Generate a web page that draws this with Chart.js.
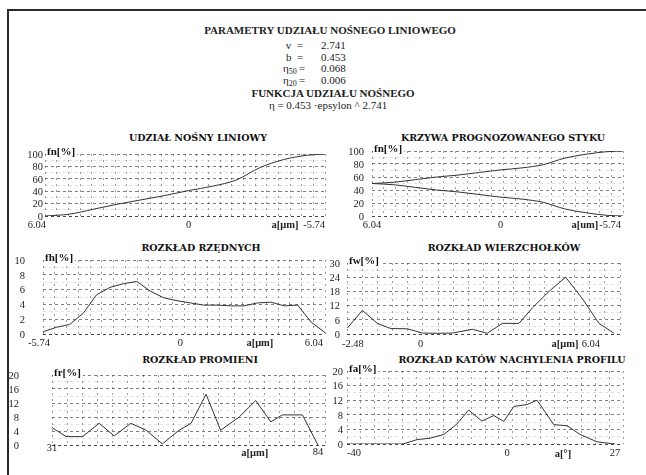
<!DOCTYPE html>
<html>
<head>
<meta charset="utf-8">
<script src="https://cdn.jsdelivr.net/npm/chart.js@4/dist/chart.umd.min.js"></script>
<style>
  html, body { margin: 0; padding: 0; background: #fff; }
  body { position: relative; width: 646px; height: 475px; overflow: hidden;
         font-family: "Liberation Serif", "Times New Roman", serif; color: #222; }
  .frame { position: absolute; left: 7px; top: 9px; width: 700px; height: 500px;
           border-left: 2px solid #2a2a2a; border-top: 2px solid #2a2a2a; }
  .t { position: absolute; white-space: nowrap; line-height: 12px; font-size: 11px; }
  .c { transform: translateX(-50%); }
  .b { font-weight: bold; }
  .ptitle { position: absolute; white-space: nowrap; transform: translateX(-50%);
            font-family: "DejaVu Serif", serif; font-weight: bold; font-size: 9.5px;
            line-height: 12px; color: #111; }
  sub { font-size: 8px; vertical-align: -2px; }
  canvas { position: absolute; }
</style>
</head>
<body>
<div class="frame"></div>

<div class="t c b" style="left:330px;top:24px;">PARAMETRY UDZIAŁU NOŚNEGO LINIOWEGO</div>
<div class="t" style="left:286px;top:39px;">ν</div><div class="t" style="left:297px;top:39px;">=</div><div class="t" style="left:321px;top:39px;">2.741</div>
<div class="t" style="left:286px;top:51px;">b</div><div class="t" style="left:297px;top:51px;">=</div><div class="t" style="left:321px;top:51px;">0.453</div>
<div class="t" style="left:283px;top:62px;">η<sub>50</sub></div><div class="t" style="left:299px;top:62px;">=</div><div class="t" style="left:321px;top:62px;">0.068</div>
<div class="t" style="left:283px;top:74px;">η<sub>20</sub></div><div class="t" style="left:299px;top:74px;">=</div><div class="t" style="left:321px;top:74px;">0.006</div>
<div class="t c b" style="left:333px;top:87px;">FUNKCJA UDZIAŁU NOŚNEGO</div>
<div class="t c" style="left:328px;top:99px;">η = 0.453 ·epsylon ^ 2.741</div>

<div class="ptitle" style="left:198px;top:132px;">UDZIAŁ NOŚNY LINIOWY</div>
<div class="ptitle" style="left:503px;top:132px;">KRZYWA PROGNOZOWANEGO STYKU</div>
<div class="ptitle" style="left:201px;top:242px;">ROZKŁAD RZĘDNYCH</div>
<div class="ptitle" style="left:504px;top:242px;">ROZKŁAD WIERZCHOŁKÓW</div>
<div class="ptitle" style="left:200px;top:354px;">ROZKŁAD PROMIENI</div>
<div class="ptitle" style="left:512px;top:354px;">ROZKŁAD KATÓW NACHYLENIA PROFILU</div>

<script>
// Udział nośny liniowy: depth a [µm] vs bearing ratio [%]
const bearingDepth = [6.04, 5, 4, 3, 2, 1, 0, -1, -2, -3, -4, -5, -5.74];
const bearingRatio = [0, 3, 11, 19, 26, 33, 41, 48, 58, 78, 91, 98, 100];

// Krzywa prognozowanego styku: two branches over the same depths
const contactUpper = [50, 52, 56, 60, 63, 67, 71, 74, 79, 89, 95, 99, 100];
const contactLower = [50, 48, 44, 40, 37, 33, 29, 26, 21, 11, 5, 1, 0];

// Rozkład rzędnych: ordinate height [µm] vs frequency [%]
const ordinateHeight = [-5.74, -5.18, -4.62, -4.06, -3.50, -2.94, -2.38, -1.82, -1.26, -0.70, -0.14,
                        0.42, 0.98, 1.54, 2.10, 2.66, 3.22, 3.78, 4.34, 4.90, 5.46, 6.04];
const ordinateFreq = [0.3, 0.9, 1.3, 2.8, 5.3, 6.3, 6.8, 7.1, 5.8, 4.9, 4.5,
                      4.2, 3.9, 3.9, 3.8, 3.8, 4.2, 4.3, 3.8, 3.9, 1.6, 0.2];

// Rozkład wierzchołków: peak height [µm] vs frequency [%]
const peakHeight = [-2.47, -1.96, -1.46, -1.01, -0.45, 0.06, 0.56, 1.07, 1.74, 2.24,
                    2.75, 3.31, 3.76, 4.32, 4.88, 5.44, 6.0, 6.51];
const peakFreq = [2.5, 10, 4.5, 2.3, 2.2, 0.4, 0.3, 0.4, 2.0, 0.3,
                  4.5, 4.5, 11, 18, 24, 15, 4.5, 0.3];

// Rozkład promieni: radius [µm] vs frequency [%]
const radius = [31, 33.8, 37.1, 40.4, 43.4, 46.7, 49.7, 53.0, 56.3, 58.7,
                61.7, 64.6, 68.3, 71.6, 74.6, 76.9, 80.9, 84];
const radiusFreq = [5.0, 2.4, 2.4, 6.2, 2.6, 6.2, 4.3, 0.3, 4.2, 6.2,
                    14.5, 4.2, 8.0, 12.7, 6.6, 8.6, 8.6, 0];

// Rozkład kątów nachylenia profilu: angle [°] vs frequency [%]
const slopeAngle = [-40, -26, -22.5, -19.2, -15.8, -12.5, -9.6, -6.3, -3.3, -0.8,
                    1.7, 5, 7.5, 11.7, 15, 18.3, 22.5, 27];
const slopeFreq = [0, 0, 1.2, 1.6, 2.6, 5.5, 9.3, 6.3, 7.8, 6.2,
                   10.3, 10.8, 12.0, 5.3, 5.0, 2.6, 0.6, 0];

const SERIF = '"Liberation Serif", "Times New Roman", serif';
const LINE_COLOR = '#333';

function pts(xs, ys) { return xs.map((x, i) => ({ x, y: ys[i] })); }

const panels = [
  { canvasLeft: 0, L: 45, T: 154, R: 325, B: 216, YR: 43,
    xMin: -5.74, xMax: 6.04, reverse: true, cols: 24, yMax: 100, yStep: 20, smooth: true,
    yLabel: 'fn[%]',
    series: [pts(bearingDepth, bearingRatio)],
    xLabels: [
      { v: 6.04, text: '6.04', align: 'right', dx: 1 },
      { v: 0, text: '0' },
      { v: -4.06, text: 'a[μm]', bold: true },
      { v: -5.74, text: '-5.74', align: 'right' } ] },
  { canvasLeft: 330, L: 372, T: 151, R: 623, B: 216, YR: 364,
    xMin: -5.74, xMax: 6.04, reverse: true, cols: 21, yMax: 100, yStep: 20, smooth: true,
    yLabel: 'fn[%]',
    series: [pts(bearingDepth, contactUpper), pts(bearingDepth, contactLower)],
    xLabels: [
      { v: 6.04, text: '6.04' },
      { v: 0, text: '0' },
      { v: -3.95, text: 'a[um]', bold: true },
      { v: -5.74, text: '-5.74', align: 'right', dx: -2 } ] },
  { canvasLeft: 0, L: 43, T: 260, R: 325, B: 334, YR: 25,
    xMin: -5.74, xMax: 6.04, cols: 24, yMax: 10, yStep: 2,
    yLabel: 'fh[%]',
    series: [pts(ordinateHeight, ordinateFreq)],
    xLabels: [
      { v: -5.74, text: '-5.74', dx: -4 },
      { v: 0, text: '0' },
      { v: 3.32, text: 'a[μm]', bold: true },
      { v: 6.04, text: '6.04', align: 'right', dx: -2 } ] },
  { canvasLeft: 330, L: 347, T: 263, R: 620, B: 334, YR: 340,
    xMin: -2.48, xMax: 6.71, cols: 18, yMax: 30, yStep: 6,
    yLabel: 'fw[%]',
    series: [pts(peakHeight, peakFreq)],
    xLabels: [
      { v: -2.48, text: '-2.48', align: 'left', dx: -5, dy: 10 },
      { v: 0, text: '0', dy: 10 },
      { v: 4.86, text: 'a[μm]', bold: true, dy: 10 },
      { v: 6.04, text: '6.04', align: 'right', dy: 10 } ] },
  { canvasLeft: 0, L: 52, T: 375, R: 325, B: 445, YR: 19,
    xMin: 31, xMax: 85.4, cols: 18, yMax: 20, yStep: 4,
    yLabel: 'fr[%]',
    series: [pts(radius, radiusFreq)],
    xLabels: [
      { v: 31, text: '31', dy: 3 },
      { v: 71.4, text: 'a[μm]', bold: true, dy: 8 },
      { v: 84, text: '84', dy: 7 } ] },
  { canvasLeft: 330, L: 347, T: 371, R: 623, B: 444, YR: 343,
    xMin: -40, xMax: 29, cols: 20, yMax: 20, yStep: 4,
    yLabel: 'fa[%]',
    series: [pts(slopeAngle, slopeFreq)],
    xLabels: [
      { v: -40, text: '-40', align: 'left', dy: 9 },
      { v: 0, text: '0', dy: 9 },
      { v: 14, text: 'a[°]', bold: true, dy: 10 },
      { v: 27, text: '27', dy: 9 } ] }
];

function isMajor(v, step) { return Math.abs(v / step - Math.round(v / step)) < 1e-6; }

function makePanel(p) {
  const top = p.T - 8;
  const w = p.R + 4 - p.canvasLeft;
  const h = p.B + 20 - top;
  const cv = document.createElement('canvas');
  cv.width = w; cv.height = h;
  cv.style.left = p.canvasLeft + 'px';
  cv.style.top = top + 'px';
  cv.style.width = w + 'px';
  cv.style.height = h + 'px';
  document.body.appendChild(cv);

  // axis captions: y tick values, x tick texts and the y unit in the top-left corner
  const axisText = {
    id: 'axisText',
    afterDraw(chart) {
      const ctx = chart.ctx, xs = chart.scales.x, ys = chart.scales.y, a = chart.chartArea;
      ctx.save();
      ctx.textBaseline = 'middle';
      ctx.fillStyle = '#222';
      ctx.font = '10.5px ' + SERIF;
      ctx.textAlign = 'right';
      ys.ticks.forEach(t => {
        if (isMajor(t.value, p.yStep)) {
          ctx.fillText(String(t.value), p.YR - p.canvasLeft, ys.getPixelForValue(t.value) + 1);
        }
      });
      p.xLabels.forEach(l => {
        ctx.font = (l.bold ? 'bold ' : '') + '10.5px ' + SERIF;
        ctx.textAlign = l.align || 'center';
        ctx.fillText(l.text, xs.getPixelForValue(l.v) + (l.dx || 0), a.bottom + (l.dy !== undefined ? l.dy : 9));
      });
      ctx.font = 'bold 11px ' + SERIF;
      ctx.textAlign = 'left';
      ctx.textBaseline = 'alphabetic';
      const tw = ctx.measureText(p.yLabel).width;
      ctx.fillStyle = '#fff';
      ctx.fillRect(a.left + 1, a.top - 8, tw + 3, 10);
      ctx.fillStyle = '#111';
      ctx.fillText(p.yLabel, a.left + 2, a.top + 1);
      ctx.restore();
    }
  };

  new Chart(cv, {
    type: 'line',
    data: {
      datasets: p.series.map(s => ({
        data: s,
        borderColor: LINE_COLOR,
        borderWidth: 1,
        pointRadius: 0,
        fill: false,
        tension: p.smooth ? 0.4 : 0,
        cubicInterpolationMode: p.smooth ? 'monotone' : 'default'
      }))
    },
    options: {
      responsive: false,
      animation: false,
      devicePixelRatio: 1,
      layout: { padding: { top: 8, right: 4, left: 0, bottom: 0 } },
      plugins: { legend: { display: false }, tooltip: { enabled: false }, title: { display: false } },
      scales: {
        x: {
          type: 'linear',
          min: p.xMin, max: p.xMax, reverse: !!p.reverse,
          afterBuildTicks: s => {
            const t = [];
            for (let i = 0; i <= p.cols; i++) t.push({ value: p.xMin + (p.xMax - p.xMin) * i / p.cols });
            s.ticks = t;
          },
          afterFit: s => { s.height = 20; },
          ticks: { display: false },
          grid: { drawTicks: false, color: 'rgba(0,0,0,0.38)', lineWidth: 1 },
          border: { display: false, dash: [2, 4] }
        },
        y: {
          min: 0, max: p.yMax,
          afterFit: s => { s.width = p.L - p.canvasLeft; },
          ticks: { display: false, stepSize: p.yStep / 2, autoSkip: false },
          grid: {
            drawTicks: false,
            lineWidth: 1,
            color: c => {
              const v = c.tick.value;
              if (v === 0) return '#444';
              return isMajor(v, p.yStep) ? 'rgba(0,0,0,0.5)' : 'rgba(0,0,0,0.12)';
            }
          },
          border: { display: false, dash: [3, 3] }
        }
      }
    },
    plugins: [axisText]
  });
}

panels.forEach(makePanel);
</script>
</body>
</html>
